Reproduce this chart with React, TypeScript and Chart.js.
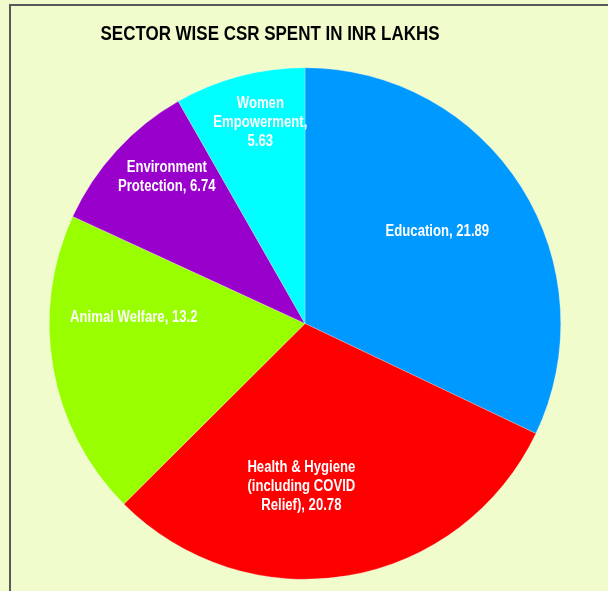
import React, { useEffect, useRef } from "react";
import { Chart, registerables } from "chart.js";

Chart.register(...registerables);

// ---- data ----
const categoryLines: string[][] = [
  ["Education"],
  ["Health & Hygiene", "(including COVID", "Relief)"],
  ["Animal Welfare"],
  ["Environment", "Protection"],
  ["Women", "Empowerment"],
];
const categories = categoryLines.map((l) => l.join(" "));
const values = [21.89, 20.78, 13.2, 6.74, 5.63];
const valueOnNewLine = [false, false, false, false, true];
const colors = ["#0099FF", "#FF0000", "#99FF00", "#9900CC", "#00FFFF"];
const title = "SECTOR WISE CSR SPENT IN INR LAKHS";

// ---- label layout (placement of data labels inside slices) ----
const labelAngleOffsetDeg = [-2.9, 11, 12.3, 4.3, 2.4];
const labelRadiusFrac = [0.633, 0.635, 0.67, 0.79, 0.81];

const BG = "#F0FCCC";

function pickFont(ctx: CanvasRenderingContext2D) {
  ctx.save();
  ctx.font = "bold 16px 'Liberation Sans Narrow', monospace";
  const a = ctx.measureText("Animal Welfare").width;
  ctx.font = "bold 16px monospace";
  const b = ctx.measureText("Animal Welfare").width;
  ctx.restore();
  if (Math.abs(a - b) > 0.5) {
    return { family: "'Liberation Sans Narrow', 'Arial Narrow', sans-serif", sx: 1 };
  }
  return { family: "'Liberation Sans', Arial, sans-serif", sx: 0.82 };
}

function drawText(ctx: CanvasRenderingContext2D, t: string, x: number, y: number, sx: number) {
  ctx.save();
  ctx.translate(x, y);
  ctx.scale(sx, 1);
  ctx.fillText(t, 0, 0);
  ctx.restore();
}

const framePlugin = {
  id: "frame",
  beforeDraw(chart: any) {
    const ctx: CanvasRenderingContext2D = chart.ctx;
    ctx.save();
    ctx.fillStyle = BG;
    ctx.fillRect(0, 0, chart.width, chart.height);
    ctx.strokeStyle = "#595959";
    ctx.lineWidth = 2;
    ctx.strokeRect(10, 5, 1000, 1000);
    const f = pickFont(ctx);
    ctx.fillStyle = "#000";
    ctx.textAlign = "center";
    ctx.textBaseline = "middle";
    ctx.font = `bold 20.7px ${f.family}`;
    drawText(ctx, title, 270, 34, f.sx);
    ctx.restore();
  },
};

const labelPlugin = {
  id: "sliceLabels",
  afterDatasetsDraw(chart: any) {
    const ctx: CanvasRenderingContext2D = chart.ctx;
    const meta = chart.getDatasetMeta(0);
    const f = pickFont(ctx);
    ctx.save();
    ctx.fillStyle = "#FFFFFF";
    ctx.textAlign = "center";
    ctx.textBaseline = "middle";
    ctx.font = `bold 16px ${f.family}`;
    meta.data.forEach((arc: any, i: number) => {
      const p = arc.getProps(["x", "y", "startAngle", "endAngle", "outerRadius"], true);
      const mid = (p.startAngle + p.endAngle) / 2 + (labelAngleOffsetDeg[i] * Math.PI) / 180;
      const r = p.outerRadius * labelRadiusFrac[i];
      const lx = p.x + Math.cos(mid) * r;
      const ly = p.y + Math.sin(mid) * r;
      const lines = categoryLines[i].slice();
      const last = lines.length - 1;
      if (valueOnNewLine[i]) {
        lines[last] = lines[last] + ",";
        lines.push(String(values[i]));
      } else {
        lines[last] = lines[last] + ", " + values[i];
      }
      const lh = 19;
      lines.forEach((t, j) => {
        const yy = ly + (j - (lines.length - 1) / 2) * lh + 1;
        drawText(ctx, t, lx, yy, f.sx);
      });
    });
    ctx.restore();
  },
};

export default function App() {
  const ref = useRef<HTMLCanvasElement | null>(null);
  useEffect(() => {
    if (!ref.current) return;
    const chart = new Chart(ref.current, {
      type: "pie",
      data: {
        labels: categories,
        datasets: [
          {
            data: values,
            backgroundColor: colors,
            borderColor: "rgba(255,255,255,0.5)",
            borderWidth: 0.5,
          },
        ],
      },
      options: {
        responsive: false,
        animation: false,
        layout: { padding: { left: 49, right: 47, top: 67, bottom: 11 } },
        plugins: {
          legend: { display: false },
          title: { display: false },
          tooltip: { enabled: false },
        },
      },
      plugins: [framePlugin, labelPlugin],
    });
    return () => chart.destroy();
  }, []);
  return (
    <div style={{ position: "fixed", left: 0, top: 0, width: 608, height: 591 }}>
      <canvas ref={ref} width={608} height={591} style={{ display: "block" }} />
    </div>
  );
}
